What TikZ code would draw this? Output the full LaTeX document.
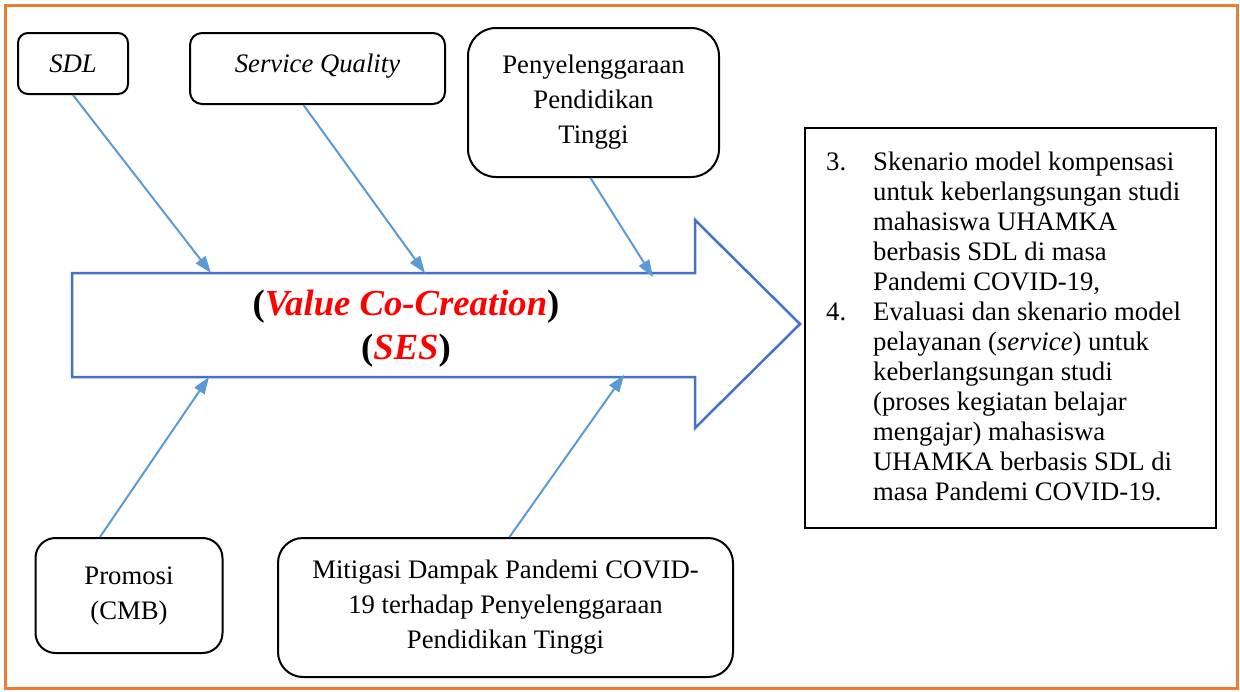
\documentclass[tikz,border=0pt]{standalone}
\usepackage{fontspec}
\setmainfont{Liberation Serif}
\usetikzlibrary{arrows.meta}
\definecolor{frameorange}{HTML}{ED7D31}
\definecolor{arrowblue}{HTML}{4472C4}
\definecolor{linkblue}{HTML}{5B9BD5}
\definecolor{txtred}{HTML}{FF0000}
\tikzset{
  factor/.style={draw=black, line width=2pt, align=center, inner sep=0pt,
    font=\fontsize{26.7}{35}\selectfont},
  link/.style={draw=linkblue, line width=2pt, -{Triangle[length=17pt,width=12pt]}},
  bigarrow/.style={draw=arrowblue, line width=2.5pt, line join=miter},
}
\begin{document}
\begin{tikzpicture}[x=1pt,y=-1pt]
\useasboundingbox (0,0) rectangle (1240,691);
\draw[frameorange, line width=3pt] (5,5) rectangle (1237,688);

% big arrow
\draw[bigarrow] (72,273) -- (695,273) -- (695,220) -- (800,324) -- (695,428) -- (695,377) -- (72,377) -- cycle;
\coordinate (t1) at (211,273);
\coordinate (t2) at (425,273);
\coordinate (t3) at (653,277);
\coordinate (b1) at (209,377);
\coordinate (b2) at (624,375);

\node[font=\fontsize{36.7}{44}\selectfont\bfseries, align=center] (vcc) at (406,329)
  {(\textcolor{txtred}{\itshape Value Co-Creation})\\(\textcolor{txtred}{\itshape SES})};

% factor boxes
\node[factor, rounded corners=10pt, minimum width=110pt, minimum height=61pt] (sdl) at (73,63.5) {\itshape SDL};
\node[factor, rounded corners=12pt, minimum width=255pt, minimum height=71pt, text depth=10pt] (sq) at (317.5,68.5) {\itshape Service Quality};
\node[factor, rounded corners=28pt, minimum width=251pt, minimum height=149pt] (pt) at (593.5,102.5) {Penyelenggaraan\\Pendidikan\\Tinggi};
\node[factor, rounded corners=20pt, minimum width=187pt, minimum height=115pt] (pr) at (129,595.5) {Promosi\\(CMB)};
\node[factor, rounded corners=25pt, minimum width=455pt, minimum height=139pt] (mt) at (505.5,607.5) {Mitigasi Dampak Pandemi COVID-\\19 terhadap Penyelenggaraan\\Pendidikan Tinggi};

% outcome box
\node[draw=black, line width=2pt, minimum width=411pt, minimum height=400pt, inner sep=0pt] (out) at (1010.5,328) {};
\node[anchor=north west, inner sep=0pt, font=\fontsize{26.7}{30}\selectfont] (outtxt) at (826,149)
  {\begin{tabular}{@{}p{47pt}@{}l@{}}
   3. & Skenario model kompensasi\\
      & untuk keberlangsungan studi\\
      & mahasiswa UHAMKA\\
      & berbasis SDL di masa\\
      & Pandemi COVID-19,\\
   4. & Evaluasi dan skenario model\\
      & pelayanan (\textit{service}) untuk\\
      & keberlangsungan studi\\
      & (proses kegiatan belajar\\
      & mengajar) mahasiswa\\
      & UHAMKA berbasis SDL di\\
      & masa Pandemi COVID-19.
  \end{tabular}};

% connectors
\draw[link] (sdl.south) -- (t1);
\draw[link] ([xshift=-14pt]sq.south) -- (t2);
\draw[link] ([xshift=-3pt]pt.south) -- (t3);
\draw[link] ([xshift=-29pt]pr.north) -- (b1);
\draw[link] ([xshift=4pt]mt.north) -- (b2);
\end{tikzpicture}
\end{document}
